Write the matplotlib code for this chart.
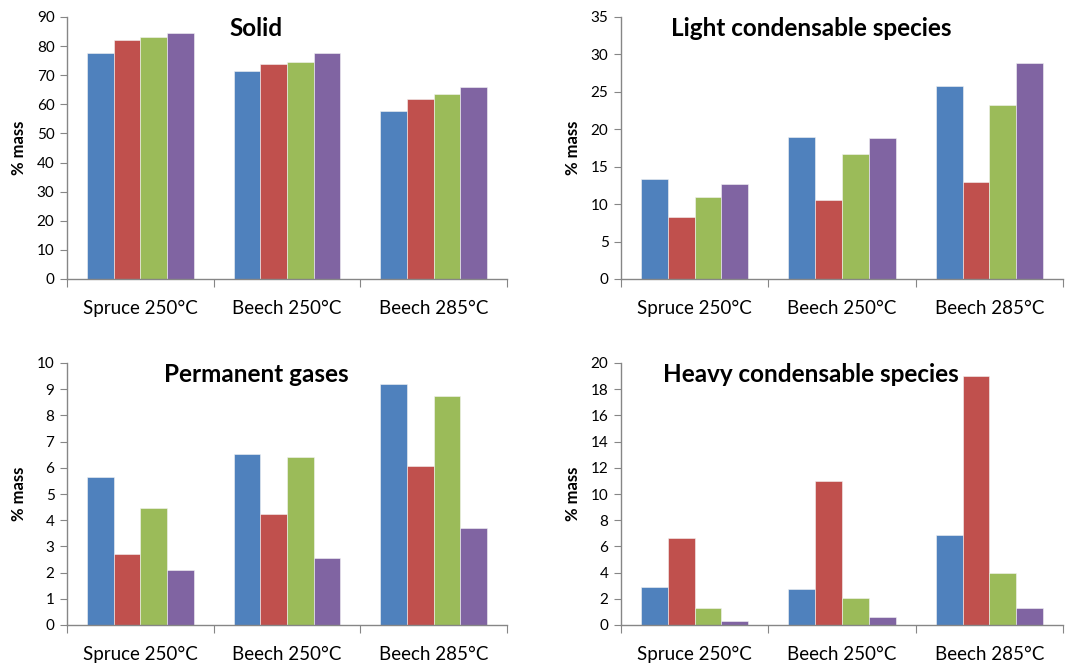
import numpy as np
import matplotlib
matplotlib.use('Agg')
import matplotlib.pyplot as plt
import matplotlib.ticker as ticker

plt.rcParams['font.family'] = ['Lato', 'DejaVu Sans']

# categories shared by every panel
categories = ['Spruce 250°C', 'Beech 250°C', 'Beech 285°C']
colors = ['#4F81BD', '#C0504D', '#9BBB59', '#8064A2']

# one list per series (blue, red, green, purple), values per category
solid = [[77.8, 71.5, 57.8],
         [82.0, 74.0, 61.8],
         [83.1, 74.6, 63.7],
         [84.6, 77.8, 65.9]]
light = [[13.4, 19.0, 25.8],
         [8.3, 10.6, 12.9],
         [10.9, 16.7, 23.3],
         [12.7, 18.8, 28.8]]
gases = [[5.66, 6.54, 9.21],
         [2.72, 4.24, 6.07],
         [4.45, 6.43, 8.74],
         [2.11, 2.56, 3.69]]
heavy = [[2.92, 2.74, 6.88],
         [6.62, 11.0, 19.0],
         [1.27, 2.06, 3.98],
         [0.28, 0.63, 1.27]]

# data, title, y max, y step, axes box in pixels (left, top, right, bottom)
panels = [
    (solid, 'Solid', 90, 10, (67, 17, 507, 279)),
    (light, 'Light condensable species', 35, 5, (621, 17, 1063, 279)),
    (gases, 'Permanent gases', 10, 1, (67, 363, 507, 625)),
    (heavy, 'Heavy condensable species', 20, 2, (621, 363, 1063, 625)),
]

W, H = 1073, 669
fig = plt.figure(figsize=(W / 100, H / 100), dpi=100)

x = np.arange(len(categories))
n = 4
w = 1 / (n + 1.5)  # excel gap width 150%
axis_col = '#868686'

for data, title, ymax, step, (l, t, r, b) in panels:
    ax = fig.add_axes([l / W, 1 - b / H, (r - l) / W, (b - t) / H])
    for i, vals in enumerate(data):
        ax.bar(x + (i - (n - 1) / 2) * w, vals, width=w, color=colors[i],
               edgecolor='#f4f4f4', linewidth=0.4, zorder=2)
    ax.set_xlim(-0.5, len(categories) - 0.5)
    ax.set_ylim(0, ymax)
    ax.yaxis.set_major_locator(ticker.MultipleLocator(step))

    for s in ['top', 'right']:
        ax.spines[s].set_visible(False)
    for s in ['left', 'bottom']:
        ax.spines[s].set_color(axis_col)
        ax.spines[s].set_linewidth(1.0)

    # category boundaries get tick marks, labels sit between them
    ax.set_xticks(np.arange(-0.5, len(categories), 1))
    ax.xaxis.set_major_formatter(ticker.NullFormatter())
    ax.set_xticks(x, minor=True)
    ax.set_xticklabels(categories, minor=True, fontsize=13.5)
    ax.tick_params(axis='x', which='major', length=6, color=axis_col, direction='out')
    ax.tick_params(axis='x', which='minor', length=0, pad=15)
    ax.tick_params(axis='y', length=5, color=axis_col, labelsize=11, pad=4)

    ax.set_ylabel('% mass', fontsize=12, fontweight='bold', labelpad=7)
    ax.text(0.43, 0.955, title, transform=ax.transAxes, ha='center', va='center',
            fontsize=17.5, fontweight='bold')

fig.savefig('out.png', dpi=100)
